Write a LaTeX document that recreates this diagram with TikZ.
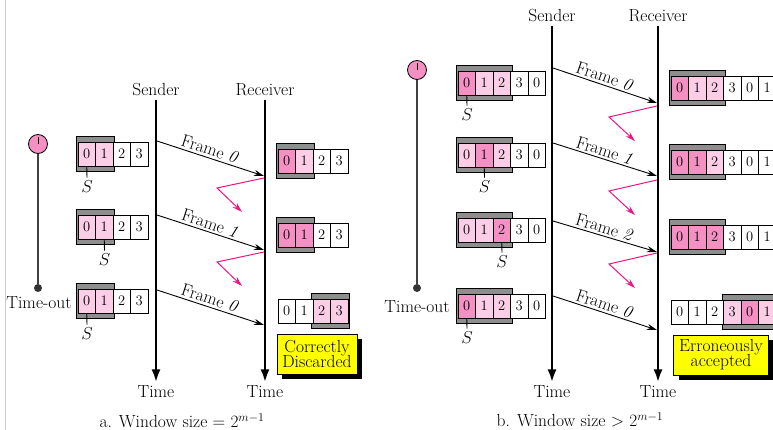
\documentclass[tikz,border=0pt]{standalone}
\usepackage{amsmath}
\usepackage{amssymb}
\usetikzlibrary{arrows.meta,shadows}
\definecolor{L}{RGB}{251, 205, 230}
\definecolor{D}{RGB}{244, 144, 196}
\definecolor{G}{RGB}{142, 142, 142}
\definecolor{M}{RGB}{236, 22, 130}
\definecolor{Y}{RGB}{255, 255, 0}

\tikzset{
	celda/.style={draw, line width=0.7pt, minimum width=17.5pt, minimum height=24pt, inner sep=0pt, font=\fontsize{14.5}{16}\selectfont},
	marco/.style={draw, line width=0.7pt, fill=G},
	linea/.style={line width=2.6pt, -{Latex[length=13pt,width=9pt]}},
	trama/.style={line width=0.9pt, -{Stealth[length=10pt,width=6pt]}},
	ack/.style={color=M, line width=1pt, -{Stealth[length=10pt,width=6pt]}},
	aviso/.style={draw, fill=Y, line width=0.8pt, align=center, inner sep=1pt, minimum height=40pt,
		drop shadow={shadow xshift=5pt, shadow yshift=-5pt, fill=black, opacity=1}},
	reloj/.style={circle, draw, line width=0.8pt, fill=D, minimum size=19pt, inner sep=0pt},
	punto/.style={circle, fill=black!80, minimum size=8pt, inner sep=0pt},
	tiempo/.style={line width=1.1pt, color=black!75},
	marca/.style={font=\fontsize{16}{18}\selectfont},
	palo/.style={line width=0.9pt}
}

% #1 nombre, #2 x, #3 y, #4 primera celda del marco, #5 ultima, #6 celdas
\newcommand{\ventana}[6]{%
	\draw[marco] (#2+#4*17.5-1.5,#3-17.5) rectangle (#2+#5*17.5+19,#3+17.5);
	\foreach \i/\num/\col in {#6}
		\node[celda,fill=\col] (#1-\i) at (#2+\i*17.5+8.75,#3) {\num};
}

\begin{document}
\begin{tikzpicture}[x=1pt, y=-1pt, font=\fontsize{17.5}{19}\selectfont]
	\useasboundingbox (0,0) rectangle (773,430);
	\draw[black!20] (5.5,0) -- (5.5,430);

	%Parte a: emisor y receptor
	\node (emisorA) at (156,90) {Sender};
	\node (receptorA) at (265,90) {Receiver};
	\node (tiempoA1) at (156,392) {Time};
	\node (tiempoA2) at (265,392) {Time};
	\draw[linea] (emisorA.south) -- (tiempoA1.north);
	\draw[linea] (receptorA.south) -- (tiempoA2.north);

	%Temporizador a
	\node[reloj] (relojA) at (38,144) {};
	\draw[line width=0.8pt] (relojA.center) -- ++(0,-7);
	\node[punto] (finA) at (38,288) {};
	\draw[tiempo] (relojA.south) -- (finA);
	\node (toA) at (39,303) {Time-out};

	%Ventanas del emisor a
	\ventana{ea1}{78}{154}{0}{1}{0/0/L,1/1/L,2/2/white,3/3/white}
	\ventana{ea2}{78}{227}{0}{1}{0/0/L,1/1/L,2/2/white,3/3/white}
	\ventana{ea3}{78}{301}{0}{1}{0/0/L,1/1/L,2/2/white,3/3/white}
	\node[marca] (sa1) at (87,187) {$S$};
	\node[marca] (sa2) at (104.5,260) {$S$};
	\node[marca] (sa3) at (87,334) {$S$};
	\draw[palo] (ea1-0.south) -- (sa1.north);
	\draw[palo] (ea2-1.south) -- (sa2.north);
	\draw[palo] (ea3-0.south) -- (sa3.north);

	%Ventanas del receptor a
	\ventana{ra1}{278}{161}{0}{1}{0/0/D,1/1/L,2/2/white,3/3/white}
	\ventana{ra2}{278}{235}{0}{1}{0/0/D,1/1/D,2/2/white,3/3/white}
	\ventana{ra3}{278}{311}{2}{3}{0/0/white,1/1/white,2/2/L,3/3/L}

	%Tramas a
	\foreach \a/\b/\f [count=\k] in {141/176/0, 215/250/1, 290/325/0}{
		\coordinate (eA\k) at (157,\a);
		\coordinate (rA\k) at (264,\b);
		\draw[trama] (eA\k) -- node[sloped, above=1pt, pos=0.47, inner sep=1pt]{Frame \textit{\f}} (rA\k);
	}

	%Acuses perdidos a
	\foreach \a [count=\k] in {178, 252}{
		\coordinate (ackA\k) at (264,\a);
		\coordinate (perA\k) at (242,\a+34);
		\draw[ack] (ackA\k) -- (217,\a+10) -- (perA\k);
	}

	\node[aviso, minimum width=80pt] (avisoA) at (317,354) {Correctly\\[-4pt]Discarded};
	\node (pieA) at (182,421) {a. Window size = $2^{m-1}$};

	%Parte b: emisor y receptor
	\node (emisorB) at (552,16) {Sender};
	\node (receptorB) at (658,16) {Receiver};
	\node (tiempoB1) at (552,392) {Time};
	\node (tiempoB2) at (658,392) {Time};
	\draw[linea] (emisorB.south) -- (tiempoB1.north);
	\draw[linea] (receptorB.south) -- (tiempoB2.north);

	%Temporizador b
	\node[reloj] (relojB) at (417,70) {};
	\draw[line width=0.8pt] (relojB.center) -- ++(0,-7);
	\node[punto] (finB) at (417,288) {};
	\draw[tiempo] (relojB.south) -- (finB);
	\node (toB) at (417,307) {Time-out};

	%Ventanas del emisor b
	\ventana{eb1}{458}{83}{0}{2}{0/0/D,1/1/L,2/2/L,3/3/white,4/0/white}
	\ventana{eb2}{458}{155}{0}{2}{0/0/L,1/1/D,2/2/L,3/3/white,4/0/white}
	\ventana{eb3}{458}{230}{0}{2}{0/0/L,1/1/L,2/2/D,3/3/white,4/0/white}
	\ventana{eb4}{458}{306}{0}{2}{0/0/D,1/1/L,2/2/L,3/3/white,4/0/white}
	\node[marca] (sb1) at (467,115) {$S$};
	\node[marca] (sb2) at (484.5,187) {$S$};
	\node[marca] (sb3) at (502,262) {$S$};
	\node[marca] (sb4) at (467,338) {$S$};
	\draw[palo] (eb1-0.south) -- (sb1.north);
	\draw[palo] (eb2-1.south) -- (sb2.north);
	\draw[palo] (eb3-2.south) -- (sb3.north);
	\draw[palo] (eb4-0.south) -- (sb4.north);

	%Ventanas del receptor b
	\ventana{rb1}{671}{88}{0}{2}{0/0/D,1/1/L,2/2/L,3/3/white,4/0/white,5/1/white}
	\ventana{rb2}{671}{162}{0}{2}{0/0/D,1/1/D,2/2/L,3/3/white,4/0/white,5/1/white}
	\ventana{rb3}{671}{237}{0}{2}{0/0/D,1/1/D,2/2/D,3/3/white,4/0/white,5/1/white}
	\ventana{rb4}{671}{312}{3}{5}{0/0/white,1/1/white,2/2/white,3/3/L,4/0/D,5/1/L}

	%Tramas b
	\foreach \a/\b/\f [count=\k] in {68/103/0, 143/176/1, 221/252/2, 296/330/0}{
		\coordinate (eB\k) at (553,\a);
		\coordinate (rB\k) at (657,\b);
		\draw[trama] (eB\k) -- node[sloped, above=1pt, pos=0.47, inner sep=1pt]{Frame \textit{\f}} (rB\k);
	}

	%Acuses perdidos b
	\foreach \a [count=\k] in {106, 180, 253}{
		\coordinate (ackB\k) at (657,\a);
		\coordinate (perB\k) at (635,\a+35);
		\draw[ack] (ackB\k) -- (609,\a+11) -- (perB\k);
	}

	\node[aviso, minimum width=95pt] (avisoB) at (721,355) {Erroneously\\[-4pt]accepted};
	\node (pieB) at (580,420) {b. Window size > $2^{m-1}$};
\end{tikzpicture}
\end{document}
